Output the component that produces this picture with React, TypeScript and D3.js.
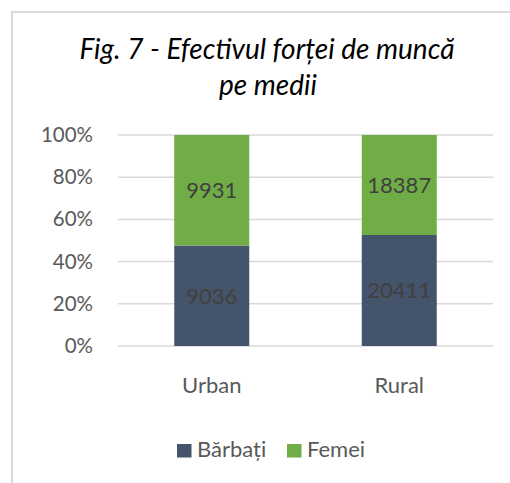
import React from "react";
import * as d3 from "d3";

const categories = ["Urban", "Rural"];
const seriesNames = ["Bărbați", "Femei"];
const barbati = [9036, 20411];
const femei = [9931, 18387];
const yTicks = [0, 0.2, 0.4, 0.6, 0.8, 1];
const colors = ["#44546A", "#70AD47"];

const W = 510;
const H = 483;
const FONT = "Lato, 'Open Sans', sans-serif";

export default function App() {
  const x = d3.scaleBand<string>().domain(categories).range([118, 493]).paddingInner(0.6).paddingOuter(0.3);
  const y = d3.scaleLinear().domain([0, 1]).range([346, 135]);
  const fmt = d3.format(".0%");

  const rows = categories.map((c, i) => {
    const total = barbati[i] + femei[i];
    return { c, vals: [barbati[i], femei[i]], total };
  });

  const legendX = [177, 287];

  return (
    <svg width={W} height={H} style={{ position: "absolute", left: 0, top: 0 }} fontFamily={FONT}>
      <rect x={0} y={0} width={W} height={H} fill="#fff" />
      <rect x={12} y={12} width={W + 50} height={H + 50} fill="#fff" stroke="#d9d9d9" strokeWidth={2} />
      <text x={267} y={59} textAnchor="middle" fontSize={28} fontStyle="italic" fill="#000">
        Fig. 7 - Efectivul forței de muncă
      </text>
      <text x={268} y={95} textAnchor="middle" fontSize={28} fontStyle="italic" fill="#000">
        pe medii
      </text>
      {yTicks.map((t) => (
        <g key={t}>
          <line x1={118} x2={493} y1={y(t)} y2={y(t)} stroke="#d9d9d9" strokeWidth={1.5} />
          <text x={93} y={y(t) + 7} textAnchor="end" fontSize={20.5} fill="#595959">
            {fmt(t)}
          </text>
        </g>
      ))}
      {rows.map((r) => {
        let acc = 0;
        return (
          <g key={r.c}>
            {r.vals.map((v, j) => {
              const y0 = acc / r.total;
              acc += v;
              const y1 = acc / r.total;
              const bx = x(r.c)!;
              return (
                <g key={j}>
                  <rect x={bx} y={y(y1)} width={x.bandwidth()} height={y(y0) - y(y1)} fill={colors[j]} />
                  <text x={bx + x.bandwidth() / 2} y={(y(y0) + y(y1)) / 2 + 8} textAnchor="middle" fontSize={22} fill="#404040">
                    {v}
                  </text>
                </g>
              );
            })}
            <text x={x(r.c)! + x.bandwidth() / 2} y={393} textAnchor="middle" fontSize={22} fill="#595959">
              {r.c}
            </text>
          </g>
        );
      })}
      {seriesNames.map((s, i) => {
        const lx = legendX[i];
        return (
          <g key={s}>
            <rect x={lx} y={444} width={14.5} height={13.5} fill={colors[i]} />
            <text x={lx + 20} y={457} fontSize={22} fill="#595959">
              {s}
            </text>
          </g>
        );
      })}
    </svg>
  );
}
